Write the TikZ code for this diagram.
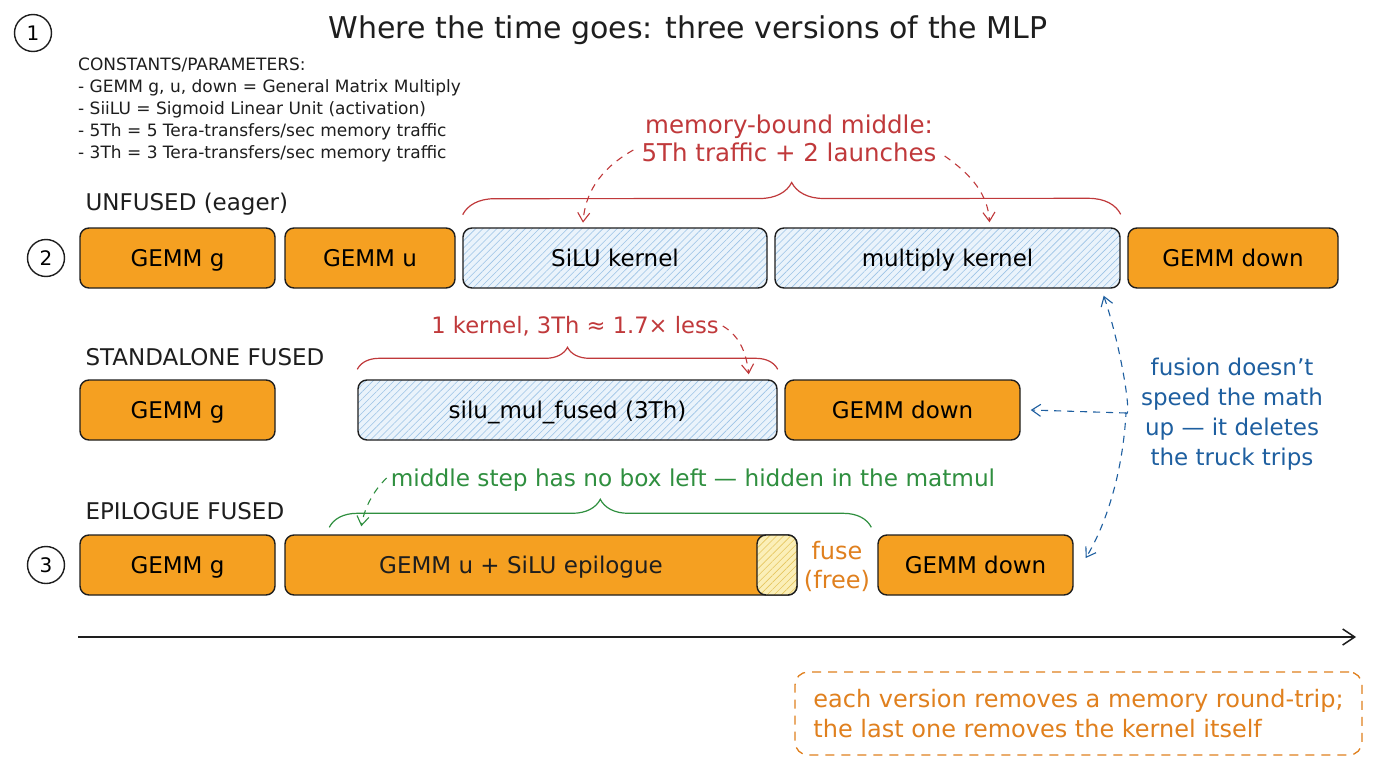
\documentclass[tikz,border=0pt]{standalone}
\usepackage{fontspec}
\setmainfont{DejaVu Sans}
\usetikzlibrary{patterns.meta,decorations.pathreplacing,arrows.meta,calc}
\definecolor{ink}{HTML}{1E1E1E}
\definecolor{orng}{HTML}{F5A021}
\definecolor{hbg}{HTML}{EAF3FB}
\definecolor{hline}{HTML}{9CC3E6}
\definecolor{ybg}{HTML}{FBEFB8}
\definecolor{yline}{HTML}{E6C65E}
\definecolor{redc}{HTML}{C0393B}
\definecolor{bluec}{HTML}{1E5FA0}
\definecolor{greenc}{HTML}{2F8F3F}
\definecolor{orangec}{HTML}{E0801E}
\tikzset{
  fs/.style={font=\fontsize{#1}{#1}\selectfont},
  box/.style={draw=ink, line width=1.4pt, rounded corners=9pt, minimum height=60pt, inner sep=0pt, fs=23, text height=19pt, text depth=2pt},
  gemm/.style={box, fill=orng},
  hatchbox/.style={box, preaction={fill=hbg}, pattern={Lines[angle=45,distance=5pt,line width=0.6pt]}, pattern color=hline},
  fusebox/.style={box, preaction={fill=ybg}, pattern={Lines[angle=45,distance=5pt,line width=0.6pt]}, pattern color=yline},
  num/.style={draw=ink, circle, line width=1.4pt, minimum size=37pt, inner sep=0pt, fs=20},
  rowlbl/.style={anchor=west, fs=23, text=ink},
  bracestyle/.style={decorate, decoration={brace, amplitude=#1}, line width=1.2pt},
  tip/.style={-{Straight Barb[length=9pt,width=12pt]}},
  dasharr/.style={dashed, dash pattern=on 7pt off 6pt, line width=1.1pt, tip},
}
\begin{document}
\begin{tikzpicture}[x=1pt,y=-1pt]
\useasboundingbox[fill=white] (0,0) rectangle (1376,768);

% header
\node[num] (n1) at (33,33) {1};
\node[fs=30, text=ink] (title) at (688,30) {Where the time goes: three versions of the MLP};
\node[anchor=north west, align=left, text=ink, inner sep=0pt, font=\fontsize{17}{22}\selectfont] (consts) at (78,58)
  {CONSTANTS/PARAMETERS:\\- GEMM g, u, down = General Matrix Multiply\\- SiiLU = Sigmoid Linear Unit (activation)\\- 5Th = 5 Tera-transfers/sec memory traffic\\- 3Th = 3 Tera-transfers/sec memory traffic};

% row 1
\node[rowlbl] (l1) at (82,204) {UNFUSED (eager)};
\node[num] (n2) at (46,258) {2};
\node[gemm, minimum width=195pt] (g1) at (177.5,258) {GEMM g};
\node[gemm, minimum width=170pt] (u1) at (370,258) {GEMM u};
\node[hatchbox, minimum width=304pt] (silu) at (615,258) {SiLU kernel};
\node[hatchbox, minimum width=345pt] (mul) at (947.5,258) {multiply kernel};
\node[gemm, minimum width=210pt] (down1) at (1233,258) {GEMM down};

\draw[bracestyle=32pt, redc] ([yshift=13pt]silu.north west) -- ([yshift=13pt]mul.north east);
\node[align=center, text=redc, inner sep=2pt, font=\fontsize{24.5}{28}\selectfont] (memtxt) at (789,138) {memory-bound middle:\\5Th traffic + 2 launches};
\draw[dasharr, redc] ([xshift=-6pt,yshift=-12pt]memtxt.west) .. controls (598,170) and (585,195) .. ([xshift=-32pt,yshift=5pt]silu.north);
\draw[dasharr, redc] ([xshift=6pt,yshift=-18pt]memtxt.east) .. controls (972,175) and (988,195) .. ([xshift=42pt,yshift=5pt]mul.north);

% row 2
\node[rowlbl] (l2) at (82,357) {STANDALONE FUSED};
\node[gemm, minimum width=195pt] (g2) at (177.5,410) {GEMM g};
\node[hatchbox, minimum width=419pt] (fused) at (567.5,410) {silu\_mul\_fused (3Th)};
\node[gemm, minimum width=235pt] (down2) at (902.5,410) {GEMM down};

\draw[bracestyle=22pt, redc] ([yshift=10pt]fused.north west) -- ([yshift=10pt]fused.north east);
\node[text=redc, inner sep=2pt, fs=22.6] (kern) at (575,326) {1 kernel, 3Th ≈ 1.7× less};
\draw[dasharr, redc] ([xshift=2pt]kern.east) .. controls (738,335) and (746,350) .. ([xshift=-29pt,yshift=5pt]fused.north east);

% row 3
\node[rowlbl] (l3) at (82,511) {EPILOGUE FUSED};
\node[num] (n3) at (46,565) {3};
\node[gemm, minimum width=195pt] (g3) at (177.5,565) {GEMM g};
\node[gemm, minimum width=512pt] (epi) at (541,565) {};
\node[fusebox, minimum width=40pt] (fz) at (777,565) {};
\node[fs=23, text=ink, text height=19pt, text depth=2pt, inner sep=0pt] (epitxt) at (521,565) {GEMM u + SiLU epilogue};
\node[align=center, text=orangec, font=\fontsize{24}{29}\selectfont, inner sep=0pt] (fuselbl) at (837,566) {fuse\\(free)};
\node[gemm, minimum width=195pt] (down3) at (975.5,565) {GEMM down};

\draw[bracestyle=28pt, greenc] ([xshift=45pt,yshift=7pt]epi.north west) -- ([xshift=-6pt,yshift=7pt]down3.north west);
\node[text=greenc, inner sep=2pt, fs=23.2] (grn) at (693,480) {middle step has no box left — hidden in the matmul};
\draw[dasharr, greenc] ([xshift=-2pt,yshift=2pt]grn.west) .. controls (372,492) and (364,510) .. ([xshift=77pt,yshift=8pt]epi.north west);

% blue note
\node[align=center, text=bluec, font=\fontsize{23}{30}\selectfont, inner sep=0pt] (blue) at (1232,414) {fusion doesn’t\\speed the math\\up — it deletes\\the truck trips};
\coordinate (bmid) at (1126,413);
\draw[dasharr, bluec, {Straight Barb[length=9pt,width=12pt]}-{Straight Barb[length=9pt,width=12pt]}] ([xshift=-17pt,yshift=-7pt]mul.south east) .. controls (1122,350) and (1132,420) .. (bmid) .. controls (1122,485) and (1100,535) .. ([xshift=12pt,yshift=7pt]down3.east);
\draw[dasharr, bluec] (bmid) -- ([xshift=10pt]down2.east);

% time axis
\coordinate (axl) at (78,637);
\coordinate (axr) at (1356,637);
\draw[line width=1.5pt, ink, -{Straight Barb[length=12pt,width=16pt]}] (axl) -- (axr);

% takeaway
\node[draw=orangec, dashed, dash pattern=on 9pt off 7pt, line width=1.3pt, rounded corners=13pt, minimum width=567pt, minimum height=83pt, align=left, text=orangec, font=\fontsize{24}{30}\selectfont] (take) at (1078.5,713.5)
  {each version removes a memory round-trip;\\the last one removes the kernel itself};
\end{tikzpicture}
\end{document}
